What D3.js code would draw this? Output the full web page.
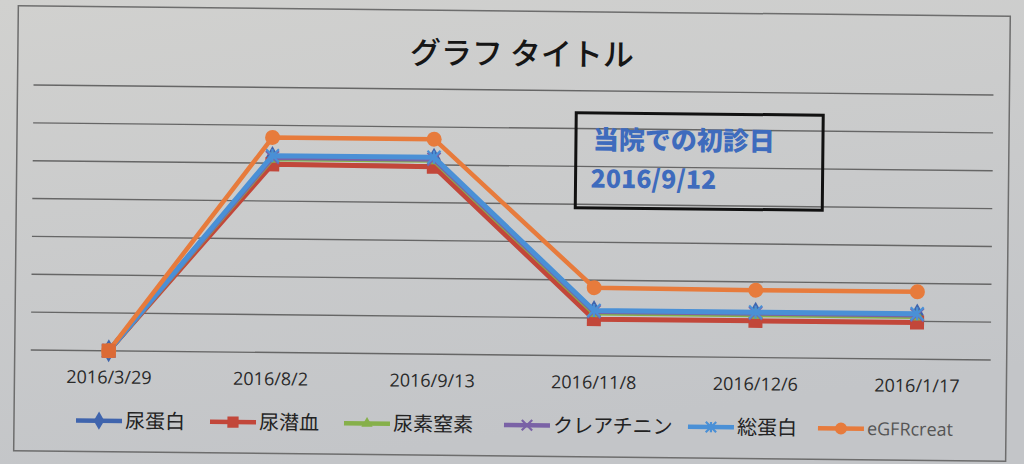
<!DOCTYPE html>
<html><head><meta charset="utf-8">
<script src="https://cdn.jsdelivr.net/npm/d3@7"></script>
<style>html,body{margin:0;padding:0;background:#c9c9c8;}svg{display:block;}</style>
</head><body>
<svg id="chart" width="1024" height="464"></svg>
<script>
const categories = ["2016/3/29","2016/8/2","2016/9/13","2016/11/8","2016/12/6","2016/1/17"];
const seriesNames = ["尿蛋白","尿潜血","尿素窒素","クレアチニン","総蛋白","eGFRcreat"];
const v_nyotanpaku = [0, 5.15, 5.15, 1.17, 1.17, 1.17];
const v_nyosenketsu = [0, 4.97, 4.95, 0.97, 0.97, 0.97];
const v_nyosochisso = [0, 5.12, 5.12, 1.13, 1.13, 1.13];
const v_creatinine = [0, 5.15, 5.15, 1.17, 1.17, 1.17];
const v_soutanpaku = [0, 5.2, 5.2, 1.2, 1.2, 1.2];
const v_egfr = [0, 5.68, 5.68, 1.8, 1.78, 1.78];
const yTicks = [0,1,2,3,4,5,6,7];
const titleText = "グラフ タイトル";
const noteLines = ["当院での初診日","2016/9/12"];

const seriesValues = [v_nyotanpaku, v_nyosenketsu, v_nyosochisso, v_creatinine, v_soutanpaku, v_egfr];
const colors = ["#3f64ad","#c2473a","#86b04a","#7a62a6","#4a90d6","#e77b3c"];
const markers = ["diamond","square","triangle","cross","star","circle"];

const svg = d3.select("#chart");
const defs = svg.append("defs");
const grad = defs.append("linearGradient").attr("id","bg").attr("x1","0").attr("y1","0").attr("x2","0.3").attr("y2","1");
grad.append("stop").attr("offset","0").attr("stop-color","#d1d1cf");
grad.append("stop").attr("offset","1").attr("stop-color","#c3c5c8");
svg.append("rect").attr("width",1024).attr("height",464).attr("fill","url(#bg)");

const g = svg.append("g").attr("transform","rotate(0.6,512,232)");

// chart frame
g.append("rect").attr("x",16).attr("y",11).attr("width",992).attr("height",445)
  .attr("fill","none").attr("stroke","#6d6d6d").attr("stroke-width",1.5);

const x = d3.scalePoint().domain(categories).range([110,918]);
const y = d3.scaleLinear().domain([0,7]).range([355,90]);
const plotL = 32, plotR = 992;

// gridlines
g.append("g").selectAll("line").data(yTicks).join("line")
  .attr("x1",plotL).attr("x2",plotR)
  .attr("y1",d=>y(d)).attr("y2",d=>y(d))
  .attr("stroke","#666").attr("stroke-width",1.4);

// x axis labels
const xAxis = d3.axisBottom(x).tickSize(0).tickPadding(0);
const xa = g.append("g").attr("transform","translate(0,375)").call(xAxis);
xa.select(".domain").remove();
xa.selectAll("text").attr("font-family","'Open Sans', sans-serif").attr("font-size",18).attr("fill","#2a2a2a").attr("dy","0.71em");

// title
g.append("text").attr("x",520).attr("y",54).attr("dy","0.35em").attr("text-anchor","middle")
  .attr("font-family","'Noto Sans CJK JP', sans-serif").attr("font-size",31).attr("font-weight",500)
  .attr("fill","#161616").text(titleText);

// symbol helper
function drawMarker(sel, type, color, size){
  if(type==="diamond"){
    sel.append("path").attr("d",d3.symbol(d3.symbolDiamond, size*size*0.9)()).attr("fill",color);
  } else if(type==="square"){
    sel.append("rect").attr("x",-size/2).attr("y",-size/2).attr("width",size).attr("height",size).attr("fill",color);
  } else if(type==="triangle"){
    sel.append("path").attr("d",d3.symbol(d3.symbolTriangle, size*size*0.6)()).attr("fill",color);
  } else if(type==="cross"){
    const s=size/2;
    sel.append("path").attr("d",`M${-s},${-s}L${s},${s}M${-s},${s}L${s},${-s}`).attr("stroke",color).attr("stroke-width",2.2);
  } else if(type==="star"){
    const s=size/2;
    sel.append("path").attr("d",`M${-s},${-s}L${s},${s}M${-s},${s}L${s},${-s}M0,${-s}L0,${s}`).attr("stroke",color).attr("stroke-width",2.2);
  } else if(type==="circle"){
    sel.append("circle").attr("r",size/2).attr("fill",color);
  }
}

const line = d3.line().x((d,i)=>x(categories[i])).y(d=>y(d));
const sizes = [13,14,12,13,13,15];
const widths = [5,5,5,5,5,4.5];
seriesValues.forEach((vals,si)=>{
  const sg = g.append("g");
  sg.append("path").datum(vals).attr("d",line).attr("fill","none")
    .attr("stroke",colors[si]).attr("stroke-width",widths[si]).attr("stroke-linejoin","round");
  vals.forEach((v,i)=>{
    const m = sg.append("g").attr("transform",`translate(${x(categories[i])},${y(v)})`);
    drawMarker(m, markers[si], colors[si], sizes[si]);
  });
});
// first point appears as an orange square on top
{
  const m = g.append("g").attr("transform",`translate(${x(categories[0])},${y(v_egfr[0])})`);
  m.append("rect").attr("x",-7).attr("y",-7).attr("width",14).attr("height",14).attr("fill","#dc6a36");
}

// annotation box
g.append("rect").attr("x",575).attr("y",112).attr("width",247).attr("height",95)
  .attr("fill","none").attr("stroke","#111").attr("stroke-width",3);
g.append("text").attr("x",592).attr("y",139).attr("dy","0.35em")
  .attr("font-family","'Noto Sans CJK JP', sans-serif").attr("font-size",26).attr("font-weight",900)
  .attr("fill","#3e6bbd").text(noteLines[0]);
g.append("text").attr("x",590).attr("y",178).attr("dy","0.35em")
  .attr("font-family","'Noto Sans CJK JP', sans-serif").attr("font-size",25).attr("font-weight",900)
  .attr("fill","#3e6bbd").text(noteLines[1]);

// legend
const legendX = [78,212,346,506,690,820];
const lg = g.append("g").attr("transform","translate(0,425)");
seriesNames.forEach((n,i)=>{
  const it = lg.append("g").attr("transform",`translate(${legendX[i]},0)`);
  it.append("line").attr("x1",0).attr("x2",46).attr("y1",0).attr("y2",0).attr("stroke",colors[i]).attr("stroke-width",4.5);
  const m = it.append("g").attr("transform","translate(23,0)");
  drawMarker(m, markers[i], colors[i], sizes[i]*0.8);
  const isLatin = i===5;
  it.append("text").attr("x",49).attr("y",0).attr("dy","0.35em")
    .attr("font-family", isLatin?"'Open Sans', sans-serif":"'Noto Sans CJK JP', sans-serif")
    .attr("font-size", isLatin?18:20)
    .attr("fill", isLatin?"#555":"#222").text(n);
});
</script>
</body></html>
